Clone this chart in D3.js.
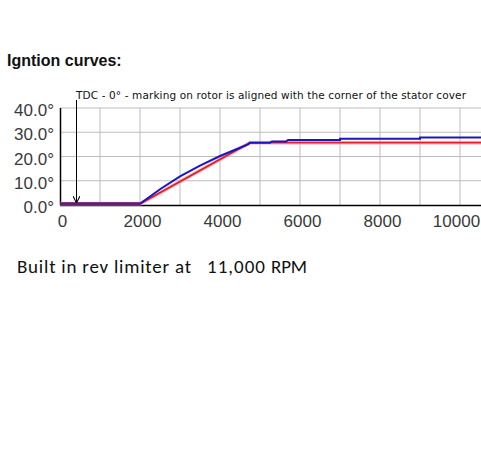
<!DOCTYPE html>
<html lang='en'>
  <head>
    <meta charset='utf-8'>
    <title>Ignition curves</title>
    <script src='https://d3js.org/d3.v7.min.js'></script>
    <style>
      html, body { margin: 0; padding: 0; background: #fff; }
    </style>
  </head>
  <body>
    <div class='vis'></div>
    <script>
      // data (rpm, degrees)
      const redRpm = [0, 2000, 4750, 10525];
      const redDeg = [0.5, 0.5, 25.7, 25.7];
      const blueRpm = [0, 2000, 2500, 3000, 3500, 4000, 4500, 4700, 4750, 5000, 5250, 5300, 5650, 5700, 7000, 7000, 9000, 9000, 10525];
      const blueDeg = [0.5, 0.5, 6.5, 11.8, 16.2, 20.2, 23.6, 25, 25.7, 25.7, 25.7, 26.2, 26.2, 26.8, 26.8, 27.3, 27.3, 27.8, 27.8];
      const xTicks = [0, 2000, 4000, 6000, 8000, 10000];
      const yTicks = [0, 10, 20, 30, 40];

      const width = 481, height = 466;

      const svg = d3.select('.vis').append('svg')
        .attr('width', width)
        .attr('height', height)
        .style('display', 'block');

      const x = d3.scaleLinear().domain([0, 10000]).range([60, 460]);
      const y = d3.scaleLinear().domain([0, 40]).range([205, 108]);

      // title
      svg.append('text')
        .attr('x', 7).attr('y', 66)
        .style('font-family', 'Liberation Sans, Arial, sans-serif')
        .style('font-weight', 'bold')
        .style('font-size', '16px')
        .attr('fill', '#111')
        .text('Igntion curves:');

      // grid
      svg.append('g').selectAll('line')
        .data(d3.range(1000, 11000, 1000)).enter().append('line')
          .attr('x1', (d) => x(d)).attr('x2', (d) => x(d))
          .attr('y1', y(40)).attr('y2', y(0))
          .attr('stroke', '#bdbdbd');
      svg.append('g').selectAll('line')
        .data(yTicks.slice(1)).enter().append('line')
          .attr('x1', x(0)).attr('x2', width)
          .attr('y1', (d) => y(d)).attr('y2', (d) => y(d))
          .attr('stroke', '#bdbdbd');

      // axes
      const xAxis = d3.axisBottom(x).tickValues(xTicks).tickSize(0).tickPadding(10)
        .tickFormat(d3.format('d'));
      const yAxis = d3.axisLeft(y).tickValues(yTicks).tickSize(0).tickPadding(6)
        .tickFormat((d) => d3.format('.1f')(d) + '°');

      const gx = svg.append('g')
        .attr('transform', 'translate(0,' + y(0) + ')')
        .call(xAxis);
      gx.select('.domain').attr('d', 'M' + x(0) + ',0.5H' + width).attr('stroke', '#000').attr('stroke-width', 1.5);
      gx.selectAll('.tick text').attr('dx', (d) => d === 10000 ? -4 : 2);

      const gy = svg.append('g')
        .attr('transform', 'translate(' + x(0) + ',0)')
        .call(yAxis);
      gy.select('.domain').attr('d', 'M0.5,' + y(40) + 'V' + y(0)).attr('stroke', '#000').attr('stroke-width', 1.5);
      gy.selectAll('.tick text').attr('dy', '0.45em');

      svg.selectAll('.tick text')
        .style('font-family', 'Liberation Sans, Arial, sans-serif')
        .style('font-size', '17px')
        .attr('fill', '#3a3a3a');

      // curves
      const line = d3.line().x((d) => x(d[0])).y((d) => y(d[1]));
      const red = d3.zip(redRpm, redDeg);
      const blue = d3.zip(blueRpm, blueDeg);

      svg.append('path').datum(red)
        .attr('d', line).attr('fill', 'none')
        .attr('stroke', '#f4a0b0').attr('stroke-width', 4).attr('opacity', 0.6);
      svg.append('path').datum(red)
        .attr('d', line).attr('fill', 'none')
        .attr('stroke', '#e0202a').attr('stroke-width', 1.8);
      svg.append('path').datum(blue)
        .attr('d', line).attr('fill', 'none')
        .attr('stroke', '#1818c0').attr('stroke-width', 2);
      svg.append('path').datum(red.slice(0, 2))
        .attr('d', line).attr('fill', 'none')
        .attr('stroke', '#6a1a70').attr('stroke-width', 3);

      // TDC annotation with arrow
      svg.append('defs').append('marker')
        .attr('id', 'arrow').attr('viewBox', '0 0 10 10')
        .attr('refX', 10).attr('refY', 5)
        .attr('markerWidth', 7).attr('markerHeight', 7)
        .attr('orient', 'auto')
        .append('path').attr('d', 'M0,0L10,5L0,10').attr('fill', 'none').attr('stroke', '#000').attr('stroke-width', 1.5);

      svg.append('line')
        .attr('x1', 76.5).attr('x2', 76.5)
        .attr('y1', 100).attr('y2', 203)
        .attr('stroke', '#000').attr('stroke-width', 1)
        .attr('marker-end', 'url(#arrow)');

      svg.append('text')
        .attr('x', 76).attr('y', 99)
        .attr('textLength', 390)
        .attr('lengthAdjust', 'spacing')
        .style('font-family', '"DejaVu Sans", Verdana, sans-serif')
        .style('font-size', '10.5px')
        .attr('fill', '#111')
        .text('TDC - 0° - marking on rotor is aligned with the corner of the stator cover');

      // footnote
      const foot = svg.append('g')
        .style('font-family', 'Carlito, Lato, "Open Sans", sans-serif')
        .style('font-size', '19px')
        .attr('fill', '#111');
      foot.append('text').attr('x', 17).attr('y', 273).attr('textLength', 174).text('Built in rev limiter at');
      foot.append('text').attr('x', 207).attr('y', 273).attr('textLength', 58).text('11,000');
      foot.append('text').attr('x', 271).attr('y', 273).attr('textLength', 36).text('RPM');
    </script>
  </body>
</html>
